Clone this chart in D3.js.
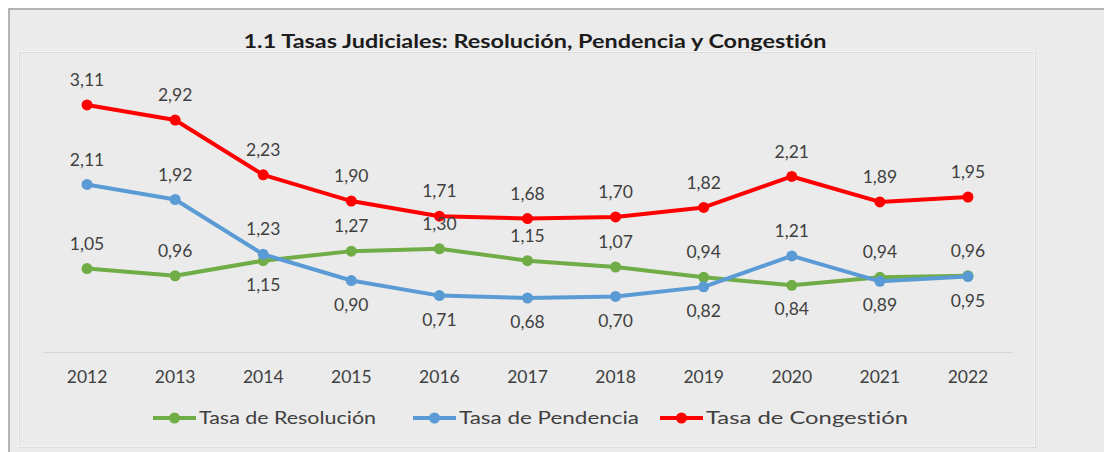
<!DOCTYPE html>
<html>
<head>
<meta charset="utf-8">
<script src="https://cdn.jsdelivr.net/npm/d3@7"></script>
<style>
  html, body { margin: 0; padding: 0; background: #ffffff; }
  svg { display: block; }
  text { font-family: Lato, "Open Sans", sans-serif; font-variant-ligatures: none; font-feature-settings: "liga" 0, "clig" 0; }
</style>
</head>
<body>
<svg id="chart" width="1104" height="452"></svg>
<script>
// ---- data ----
const years = ["2012","2013","2014","2015","2016","2017","2018","2019","2020","2021","2022"];
const resolucion = [1.05, 0.96, 1.15, 1.27, 1.30, 1.15, 1.07, 0.94, 0.84, 0.94, 0.96];
const pendencia  = [2.11, 1.92, 1.23, 0.90, 0.71, 0.68, 0.70, 0.82, 1.21, 0.89, 0.95];
const congestion = [3.11, 2.92, 2.23, 1.90, 1.71, 1.68, 1.70, 1.82, 2.21, 1.89, 1.95];
const seriesNames = ["Tasa de Resolución", "Tasa de Pendencia", "Tasa de Congestión"];
const titleText = "1.1 Tasas Judiciales: Resolución, Pendencia y Congestión";
// label placement (t = above, b = below)
const resLabelPos = ["t","t","b","t","t","t","t","t","b","t","t"];
const penLabelPos = ["t","t","t","b","b","b","b","b","t","b","b"];
const conLabelPos = ["t","t","t","t","t","t","t","t","t","t","t"];

const colors = ["#70ad47", "#5b9bd5", "#ff0000"];
const series = [
  { name: seriesNames[0], values: resolucion, pos: resLabelPos, color: colors[0] },
  { name: seriesNames[1], values: pendencia,  pos: penLabelPos, color: colors[1] },
  { name: seriesNames[2], values: congestion, pos: conLabelPos, color: colors[2] }
];

const svg = d3.select("#chart");

// outer frame
svg.append("rect").attr("x", 9).attr("y", 9).attr("width", 1110).attr("height", 460)
  .attr("fill", "#ebebeb").attr("stroke", "#b4b4b4").attr("stroke-width", 2);
// inner plot frame
svg.append("rect").attr("x", 19.5).attr("y", 52.5).attr("width", 1016).attr("height", 395)
  .attr("fill", "none").attr("stroke", "#dcdcdc").attr("stroke-width", 1);
svg.append("rect").attr("x", 18.5).attr("y", 51.5).attr("width", 1016).attr("height", 395)
  .attr("fill", "none").attr("stroke", "#f4f4f4").attr("stroke-width", 1);

// title
svg.append("text").attr("x", 535).attr("y", 48).attr("text-anchor", "middle")
  .attr("font-size", 19).attr("font-weight", "bold").attr("fill", "#1c1c1c")
  .attr("textLength", 583).attr("lengthAdjust", "spacingAndGlyphs")
  .text(titleText);

// scales
const x = d3.scaleBand().domain(years).range([43, 1012]).padding(0);
const cx = d => x(d) + x.bandwidth() / 2;
const y = d3.scaleLinear().domain([0, 3.5]).range([352, 74]);

// x axis
const axis = d3.axisBottom(x).tickSizeInner(0).tickSizeOuter(0).tickPadding(19);
const gx = svg.append("g").attr("transform", "translate(0,352)").call(axis);
gx.select(".domain").attr("stroke", "#d6d6d6").attr("stroke-width", 1.2);
gx.selectAll(".tick text").attr("font-size", 17.5).attr("fill", "#404040")
  .style("font-family", "Lato, 'Open Sans', sans-serif");

const loc = d3.formatLocale({ decimal: ",", thousands: ".", grouping: [3], currency: ["", ""] });
const fmt = loc.format(".2f");

const line = d3.line().x((d, i) => cx(years[i])).y(d => y(d));

series.forEach(s => {
  const g = svg.append("g");
  g.append("path").datum(s.values).attr("d", line)
    .attr("fill", "none").attr("stroke", s.color).attr("stroke-width", 4)
    .attr("stroke-linejoin", "round").attr("stroke-linecap", "round");
  g.selectAll("circle").data(s.values).join("circle")
    .attr("cx", (d, i) => cx(years[i])).attr("cy", d => y(d)).attr("r", 5.5)
    .attr("fill", s.color);
});

// data labels
series.forEach(s => {
  svg.append("g").selectAll("text").data(s.values).join("text")
    .attr("x", (d, i) => cx(years[i]))
    .attr("y", (d, i) => y(d) + (s.pos[i] === "t" ? -25 : 24))
    .attr("dy", "0.35em").attr("text-anchor", "middle")
    .attr("font-size", 17.5).attr("fill", "#404040")
    .text(d => fmt(d));
});

// legend
const legendItems = [
  { x: 153, tw: 177 },
  { x: 413, tw: 180 },
  { x: 660, tw: 202 }
];
const ly = 418;
series.forEach((s, i) => {
  const lx = legendItems[i].x;
  const g = svg.append("g");
  g.append("line").attr("x1", lx).attr("x2", lx + 43).attr("y1", ly).attr("y2", ly)
    .attr("stroke", s.color).attr("stroke-width", 4);
  g.append("circle").attr("cx", lx + 21.5).attr("cy", ly).attr("r", 5.5).attr("fill", s.color);
  g.append("text").attr("x", lx + 46).attr("y", ly).attr("dy", "0.35em")
    .attr("font-size", 17.5).attr("fill", "#404040")
    .attr("textLength", legendItems[i].tw).attr("lengthAdjust", "spacingAndGlyphs")
    .text(s.name);
});
</script>
</body>
</html>
